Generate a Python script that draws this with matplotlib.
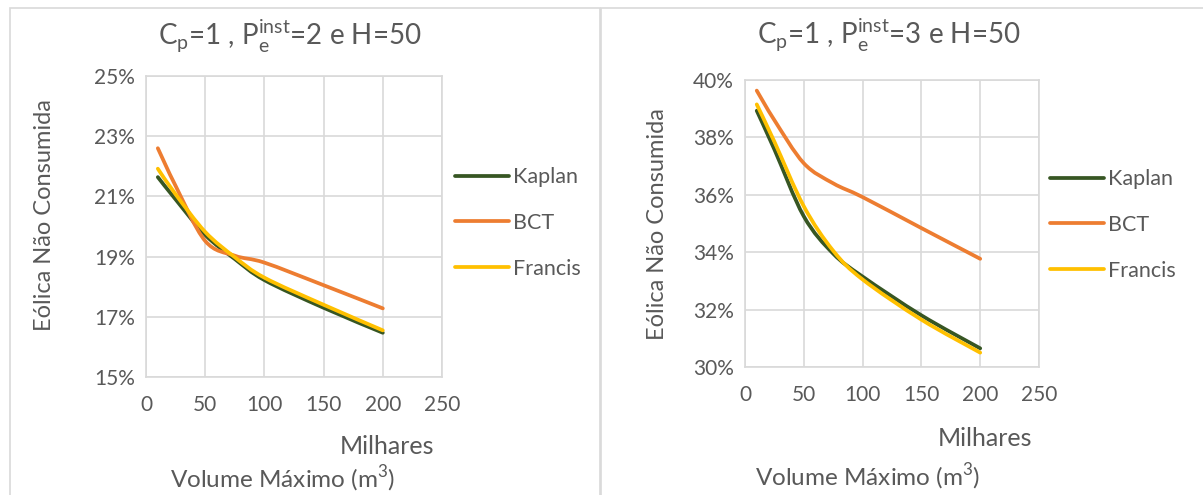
import numpy as np
import matplotlib
matplotlib.use("Agg")
import matplotlib.pyplot as plt
from matplotlib.path import Path
from matplotlib.patches import PathPatch, Rectangle
from matplotlib.lines import Line2D

plt.rcParams["font.family"] = ["Lato", "DejaVu Sans"]

# ── DATA ──────────────────────────────────────────────────────
volume = [10, 25, 50, 75, 100, 150, 200]          # milhares de m3

# left panel: Pe_inst = 2
kaplan_2  = [21.64, 20.90, 19.72, 18.92, 18.22, 17.30, 16.47]
bct_2     = [22.60, 21.35, 19.52, 19.03, 18.80, 18.05, 17.28]
francis_2 = [21.92, 21.07, 19.82, 18.98, 18.30, 17.40, 16.55]

# right panel: Pe_inst = 3
kaplan_3  = [38.93, 37.58, 35.25, 33.95, 33.15, 31.80, 30.65]
bct_3     = [39.63, 38.60, 37.10, 36.40, 35.92, 34.84, 33.77]
francis_3 = [39.15, 37.85, 35.60, 34.05, 33.05, 31.65, 30.50]

series = ["Kaplan", "BCT", "Francis"]
colors = {"Kaplan": "#375623", "BCT": "#ED7D31", "Francis": "#FFC000"}

x_ticks = [0, 50, 100, 150, 200, 250]
y_ticks_2 = [15, 17, 19, 21, 23, 25]
y_ticks_3 = [30, 32, 34, 36, 38, 40]

TEXT = "#595959"
GRID = "#d9d9d9"
LW = 2.7


def smooth_path(xs, ys):
    # Excel-style smoothed line: cubic Bezier segments through the points
    p = np.column_stack([xs, ys]).astype(float)
    n = len(p)
    verts = [p[0]]
    codes = [Path.MOVETO]
    for i in range(n - 1):
        p0 = p[i - 1] if i > 0 else p[i]
        p3 = p[i + 2] if i + 2 < n else p[i + 1]
        c1 = p[i] + (p[i + 1] - p0) / 6.0
        c2 = p[i + 1] - (p3 - p[i]) / 6.0
        verts += [c1, c2, p[i + 1]]
        codes += [Path.CURVE4] * 3
    return Path(verts, codes)


W, H = 1203, 495
fig = plt.figure(figsize=(W / 100, H / 100), dpi=100)

# chart frames
fig.add_artist(Rectangle((10 / W, -0.1), 590 / W, 1.1 - 8 / H, transform=fig.transFigure,
                         fill=False, edgecolor=GRID, linewidth=1.2))
fig.add_artist(Rectangle((601 / W, -0.1), 650 / W, 1.1 - 8 / H, transform=fig.transFigure,
                         fill=False, edgecolor=GRID, linewidth=1.2))

panels = [
    dict(rect=[146, 76, 442, 377], data=[kaplan_2, bct_2, francis_2], yt=y_ticks_2,
         title=r"C$_\mathregular{p}$=1 , P$_\mathregular{e}^\mathregular{inst}$=2 e H=50",
         tx=290, ty=36, yl=(45, 215), mil=(387, 447), vol=(283, 479), leg=(455, 223)),
    dict(rect=[745, 80, 1039, 367], data=[kaplan_3, bct_3, francis_3], yt=y_ticks_3,
         title=r"C$_\mathregular{p}$=1 , P$_\mathregular{e}^\mathregular{inst}$=3 e H=50",
         tx=889, ty=35, yl=(658, 224), mil=(985, 438), vol=(868, 477), leg=(1050, 225)),
]

for pn in panels:
    l, t, r, b = pn["rect"]
    ax = fig.add_axes([l / W, 1 - b / H, (r - l) / W, (b - t) / H])
    ax.set_xlim(0, 250)
    ax.set_ylim(pn["yt"][0], pn["yt"][-1])
    ax.set_xticks(x_ticks)
    ax.set_yticks(pn["yt"])
    ax.set_yticklabels([f"{v}%" for v in pn["yt"]])
    ax.tick_params(length=0, labelsize=15, colors=TEXT, pad=8)
    ax.tick_params(axis="x", pad=13)
    ax.grid(True, color=GRID, linewidth=1.2)
    ax.set_axisbelow(True)
    for s in ax.spines.values():
        s.set_color(GRID)
        s.set_linewidth(1.2)

    for name, ys in zip(series, pn["data"]):
        ax.add_patch(PathPatch(smooth_path(volume, ys), fill=False,
                               edgecolor=colors[name], linewidth=LW,
                               capstyle="round", joinstyle="round", zorder=3))

    fig.text(pn["tx"] / W, 1 - pn["ty"] / H, pn["title"], ha="center", va="center",
             fontsize=20, color=TEXT)
    fig.text(pn["yl"][0] / W, 1 - pn["yl"][1] / H, "Eólica Não Consumida",
             rotation=90, ha="center", va="center", fontsize=17, color=TEXT)
    fig.text(pn["mil"][0] / W, 1 - pn["mil"][1] / H, "Milhares", ha="center",
             va="center", fontsize=18, color=TEXT)
    fig.text(pn["vol"][0] / W, 1 - pn["vol"][1] / H,
             r"Volume Máximo (m$^\mathregular{3}$)", ha="center", va="center",
             fontsize=17.5, color=TEXT)

    handles = [Line2D([], [], color=colors[n], linewidth=LW, solid_capstyle="round")
               for n in series]
    ax.legend(handles, series, loc="center left",
              bbox_to_anchor=(pn["leg"][0] / W, 1 - pn["leg"][1] / H),
              bbox_transform=fig.transFigure, frameon=False, fontsize=15.5,
              labelcolor=TEXT, handlelength=2.5, handletextpad=0.2,
              labelspacing=1.2, borderpad=0, borderaxespad=0)

fig.savefig("out.png", dpi=100)
